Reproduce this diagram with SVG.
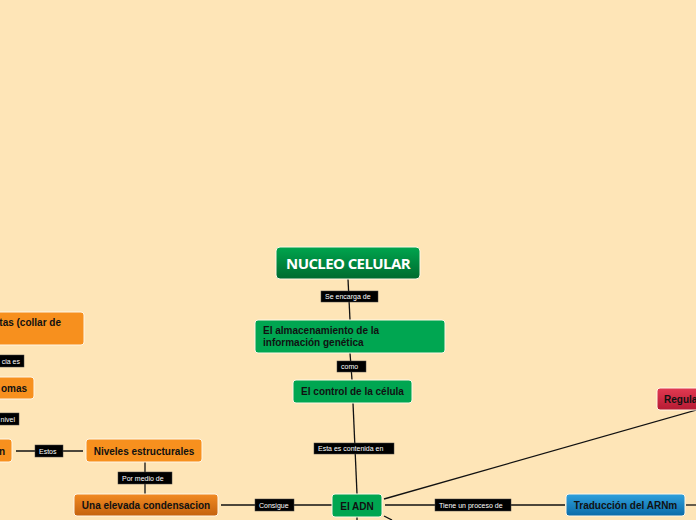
<svg xmlns="http://www.w3.org/2000/svg" width="696" height="520" viewBox="0 0 696 520">
<defs>
<linearGradient id="gTitle" x1="0" y1="0" x2="0" y2="1"><stop offset="0" stop-color="#00A54E"/><stop offset="1" stop-color="#006A2F"/></linearGradient>
<linearGradient id="gOrange" x1="0" y1="0" x2="0" y2="1"><stop offset="0" stop-color="#F28A22"/><stop offset="1" stop-color="#C4620E"/></linearGradient>
<linearGradient id="gBlue" x1="0" y1="0" x2="0" y2="1"><stop offset="0" stop-color="#2FA0DC"/><stop offset="1" stop-color="#0B6BA8"/></linearGradient>
<linearGradient id="gRed" x1="0" y1="0" x2="0" y2="1"><stop offset="0" stop-color="#E23A52"/><stop offset="1" stop-color="#B51A33"/></linearGradient>
<style>
.n{stroke:#FFF6E6;stroke-width:1;}
.green{fill:#00A651;}
.orange{fill:#F7901E;}
.t{font-family:"Liberation Sans",Arial,sans-serif;font-weight:bold;font-size:10px;fill:#111;}
.lb{fill:#000;stroke:#444;stroke-width:0.5;}
.lt{font-family:"Liberation Sans",Arial,sans-serif;font-size:7px;fill:#fff;}
.c{stroke:#111;stroke-width:1.3;fill:none;}
</style>
</defs>
<rect width="696" height="520" fill="#FEE5B7"/>
<g id="connectors">
<line class="c" x1="348" y1="279" x2="350" y2="320"/>
<line class="c" x1="350" y1="353" x2="352" y2="380"/>
<line class="c" x1="353" y1="403" x2="357" y2="494"/>
<line class="c" x1="384" y1="499" x2="700" y2="409"/>
<line class="c" x1="385" y1="505" x2="565" y2="505"/>
<line class="c" x1="686" y1="505" x2="696" y2="505"/>
<line class="c" x1="221" y1="505" x2="332" y2="505"/>
<line class="c" x1="145" y1="462" x2="145" y2="494"/>
<line class="c" x1="16" y1="451" x2="83" y2="451"/>
<line class="c" x1="357" y1="517" x2="357" y2="520"/>
<line class="c" x1="384" y1="516" x2="392" y2="520"/>
<rect class="lb" x="321" y="291" width="57" height="11"/>
<text class="lt" x="325" y="299">Se encarga de</text>
<rect class="lb" x="337" y="361" width="29" height="11"/>
<text class="lt" x="341" y="369">como</text>
<rect class="lb" x="314" y="443" width="80" height="11"/>
<text class="lt" x="318" y="451">Esta es contenida en</text>
<rect class="lb" x="435" y="499" width="76" height="12"/>
<text class="lt" x="439" y="507.5">Tiene un proceso de</text>
<rect class="lb" x="255" y="499" width="39" height="12"/>
<text class="lt" x="259" y="507.5">Consigue</text>
<rect class="lb" x="118" y="472" width="54" height="12"/>
<text class="lt" x="122" y="480.5">Por medio de</text>
<rect class="lb" x="35" y="445" width="28" height="12"/>
<text class="lt" x="39" y="453.5">Estos</text>
<rect class="lb" x="-5" y="413" width="24" height="12"/>
<text class="lt" x="15" y="421.5" text-anchor="end">nivel</text>
<rect class="lb" x="-5" y="355" width="29" height="12"/>
<text class="lt" x="20" y="363.5" text-anchor="end">cia es</text>
</g>
<g id="nucleo">
<rect class="n" x="276" y="247" width="144" height="32" rx="4" fill="url(#gTitle)"/>
<text x="348" y="269" text-anchor="middle" font-family="'Open Sans',sans-serif" font-weight="700" font-size="15" letter-spacing="-0.6" fill="#fff">NUCLEO CELULAR</text>
</g>
<g id="almacenamiento">
<rect class="n green" x="255" y="320" width="190" height="33" rx="3"/>
<text class="t" x="263" y="333.5">El almacenamiento de la</text>
<text class="t" x="263" y="346">información genética</text>
</g>
<g id="control">
<rect class="n green" x="293" y="380" width="119" height="23" rx="3"/>
<text class="t" x="352.5" y="395" text-anchor="middle">El control de la célula</text>
</g>
<g id="adn">
<rect class="n green" x="332" y="494" width="50" height="23" rx="3"/>
<text class="t" x="357" y="509.5" text-anchor="middle" font-size="10.5">El ADN</text>
</g>
<g id="traduccion">
<rect class="n" x="566" y="494" width="119" height="22" rx="3" fill="url(#gBlue)"/>
<text class="t" x="625.5" y="508.5" text-anchor="middle">Traducción del ARNm</text>
</g>
<g id="regula">
<rect class="n" x="657" y="388" width="60" height="22" rx="3" fill="url(#gRed)"/>
<text class="t" x="664" y="402.5">Regula</text>
</g>
<g id="condensacion">
<rect class="n" x="74" y="494" width="144" height="22" rx="3" fill="url(#gOrange)"/>
<text class="t" x="146" y="508.5" text-anchor="middle">Una elevada condensacion</text>
</g>
<g id="niveles">
<rect class="n orange" x="86" y="439" width="116" height="23" rx="3"/>
<text class="t" x="144" y="454.5" text-anchor="middle">Niveles estructurales</text>
</g>
<g id="left-n">
<rect class="n orange" x="-10" y="439" width="22" height="23" rx="3"/>
<text class="t" x="5" y="454.5" text-anchor="end">n</text>
</g>
<g id="left-omas">
<rect class="n orange" x="-10" y="377" width="44" height="22" rx="3"/>
<text class="t" x="27" y="391.5" text-anchor="end">omas</text>
</g>
<g id="left-collar">
<rect class="n orange" x="-10" y="312" width="94" height="33" rx="3"/>
<text class="t" x="61" y="326" text-anchor="end">tas (collar de</text>
</g>
</svg>
